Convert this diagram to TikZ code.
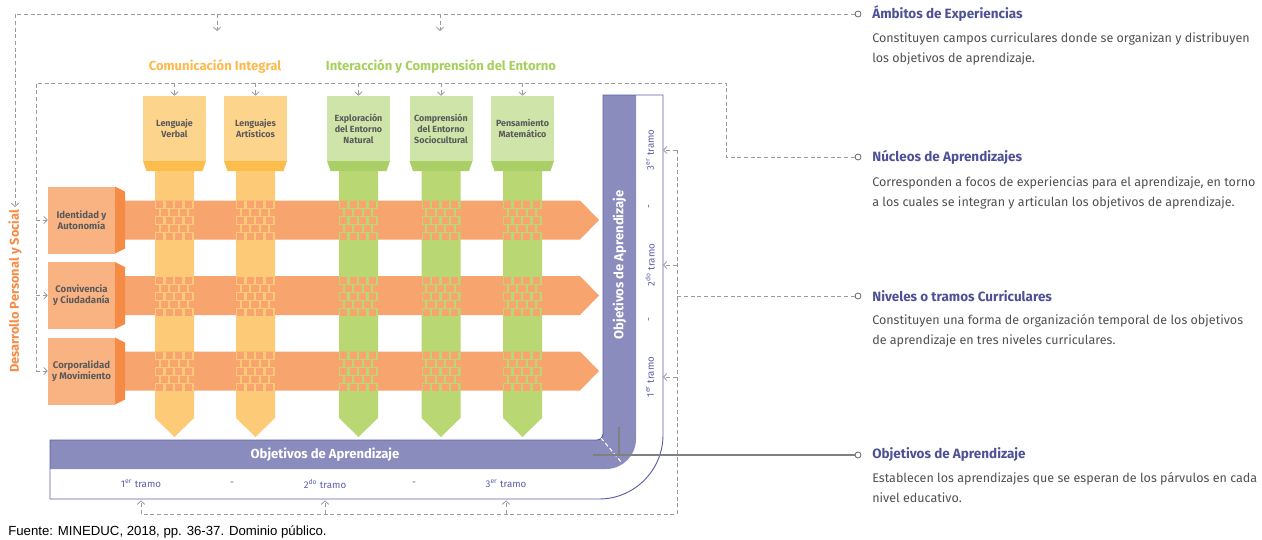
\documentclass[tikz,border=0pt]{standalone}
\usepackage{fontspec}
\setmainfont{Fira Sans}
\newfontfamily\fuentefont{Liberation Sans}
\usetikzlibrary{arrows.meta,positioning}

\begin{document}
\begin{tikzpicture}[x=0.75pt,y=-0.75pt]

\newcommand{\tejido}[3]{%
  \begin{scope}
    \clip (#1-19.5,#2-19.5) rectangle (#1+19.5,#2+19.5);
    \fill[#3] (#1-19.5,#2-19.5) rectangle (#1+19.5,#2+19.5);
    \foreach \k in {0,...,4}{
      \pgfmathsetmacro{\off}{mod(\k,2)*4.75}
      \foreach \j in {-1,...,4}
        \fill[rowCol] (#1-19.5+\off+\j*9.5+1.2,#2-19.5+\k*8+0.5) rectangle ++(7.1,7);
    }
  \end{scope}
}

  \definecolor{rowCol}{HTML}{F7A46E}
  \definecolor{pdFace}{HTML}{F9B382}
  \definecolor{pdSide}{HTML}{F68B45}
  \definecolor{oBox}{HTML}{FDD48C}
  \definecolor{oBand}{HTML}{FDBD4C}
  \definecolor{oStem}{HTML}{FDCB78}
  \definecolor{gBox}{HTML}{CFE4A8}
  \definecolor{gBand}{HTML}{AACF66}
  \definecolor{gStem}{HTML}{B9D772}
  \definecolor{oaFill}{HTML}{8A8CBE}
  \definecolor{oaLine}{HTML}{5A5DA8}
  \definecolor{dashCol}{HTML}{9B9B9B}
  \definecolor{titCol}{HTML}{4F5196}
  \definecolor{txtCol}{HTML}{505050}
  \definecolor{lblCol}{HTML}{5A5A5A}
  \definecolor{ciCol}{HTML}{FDB94C}
  \definecolor{icCol}{HTML}{A7CF5E}

 \tikzset{
      dashline/.style={dashCol,densely dashed,line width=0.6pt},
      dasharrow/.style={dashline,-{Straight Barb[length=2.6pt,width=5.5pt]}},
      grayline/.style={draw=gray,line width=0.8pt},
      colbox/.style={inner sep=0pt,minimum width=47.25pt,minimum height=48.75pt,
        align=center,font=\fontsize{6.7}{8.3}\selectfont\bfseries,text=lblCol},
      pdbox/.style={fill=pdFace,inner sep=0pt,minimum width=50.25pt,minimum height=50.25pt,
        align=center,font=\fontsize{7.2}{8}\selectfont\bfseries,text=lblCol},
      tramo/.style={text=oaLine,font=\fontsize{7.3}{8}\selectfont,inner sep=1pt},
      puntoref/.style={circle,draw=gray!80!black,fill=white,line width=0.6pt,
        inner sep=0pt,minimum size=4.5pt},
      titulo/.style={anchor=west,text=titCol,font=\fontsize{10.1}{12}\selectfont\bfseries,inner sep=0pt},
      cuerpo/.style={anchor=base west,text=txtCol,align=left,
        font=\fontsize{9.4}{14.6}\selectfont,inner sep=0pt},
      ambito/.style={font=\fontsize{9.8}{11}\selectfont\bfseries,inner sep=0pt},
      oatxt/.style={text=white,font=\fontsize{9.8}{11}\selectfont\bfseries,inner sep=0pt},
    }

 \useasboundingbox (0,0) rectangle (1262,539);

 % nucleos (columnas)
 \foreach \cx/\nm/\txt/\cf in {174.5/lv/{Lenguaje\\Verbal}/o,
     255.5/la/{Lenguajes\\Artísticos}/o,
     358.5/en/{Exploración\\del Entorno\\Natural}/g,
     441/cs/{Comprensión\\del Entorno\\Sociocultural}/g,
     522.5/pm/{Pensamiento\\Matemático}/g}{
   \fill[\cf Stem] (\cx-19.5,171) -- (\cx+19.5,171) -- (\cx+19.5,418) --
     (\cx,437) -- (\cx-19.5,418) -- cycle;
   \fill[\cf Band] (\cx-31.5,161) -- (\cx+31.5,161) -- (\cx+28,171) -- (\cx-28,171) -- cycle;
   \node[colbox,fill=\cf Box] (\nm) at (\cx,128.5) {\txt};
 }

 \node[ambito,text=ciCol] (ci) at (215,66) {Comunicación Integral};
 \node[ambito,text=icCol] (ic) at (441,66) {Interacción y Comprensión del Entorno};

 % nucleos (filas)
 \foreach \ry/\nm/\txt in {220/ia/{Identidad y\\Autonomía},
     295.5/cc/{Convivencia\\y Ciudadanía},
     371/cm/{Corporalidad\\y Movimiento}}{
   \fill[rowCol] (125,\ry-19.5) -- (580,\ry-19.5) -- (599,\ry) --
     (580,\ry+19.5) -- (125,\ry+19.5) -- cycle;
   \node[pdbox] (\nm) at (81.5,\ry) {\txt};
   \fill[pdSide] (115,\ry-33.5) -- (125,\ry-28.5) -- (125,\ry+28.5) -- (115,\ry+33.5) -- cycle;
   \foreach \cx/\cf in {174.5/o,255.5/o,358.5/g,441/g,522.5/g}
     \tejido{\cx}{\ry}{\cf Stem};
 }

 \node[rotate=90,text=pdSide,font=\fontsize{9.6}{11}\selectfont\bfseries,inner sep=2pt]
   (dps) at (15,291.5) {Desarrollo Personal y Social};

 % objetivos de aprendizaje (L)
 \fill[oaFill] (50,440) -- (597,440) .. controls (600.3,440) and (603,436.7) .. (603,434) --
   (603,95) -- (636,95) -- (636,439) .. controls (636,455.6) and (622.6,469) .. (606,469) --
   (50,469) -- cycle;
 \draw[oaLine,line width=0.7pt] (50,440) -- (50,499) -- (599,499)
   .. controls (634.3,499) and (663,470.3) .. (663,435) -- (663,95) -- (603,95) --
   (603,434) .. controls (603,436.7) and (600.3,440) .. (597,440) -- cycle;
 \draw[white,densely dashed,line width=0.8pt] (601,438) -- (622,463);

 \node[oatxt] (oah) at (325,455) {Objetivos de Aprendizaje};
 \node[oatxt,rotate=90] (oav) at (619.5,265) {Objetivos de Aprendizaje};

 \node[tramo] (t1h) at (141,484) {1\textsuperscript{er} tramo};
 \node[tramo] (s1h) at (232,484) {-};
 \node[tramo] (t2h) at (325,484) {2\textsuperscript{do} tramo};
 \node[tramo] (s2h) at (414,484) {-};
 \node[tramo] (t3h) at (506,484) {3\textsuperscript{er} tramo};

 \node[tramo,rotate=90] (t3v) at (650,150) {3\textsuperscript{er} tramo};
 \node[tramo,rotate=90] (s2v) at (650,207) {-};
 \node[tramo,rotate=90] (t2v) at (650,265) {2\textsuperscript{do} tramo};
 \node[tramo,rotate=90] (s1v) at (650,320) {-};
 \node[tramo,rotate=90] (t1v) at (650,377) {1\textsuperscript{er} tramo};

 % leyenda
 \node[puntoref] (pAmb) at (858,14) {};
 \node[titulo,right=8pt of pAmb] (tAmb) {Ámbitos de Experiencias};
 \node[cuerpo] (bAmb) at (872,62)
   {Constituyen campos curriculares donde se organizan y distribuyen\\los objetivos de aprendizaje.};

 \node[puntoref] (pNuc) at (858,157) {};
 \node[titulo,right=8pt of pNuc] (tNuc) {Núcleos de Aprendizajes};
 \node[cuerpo] (bNuc) at (872,206)
   {Corresponden a focos de experiencias para el aprendizaje, en torno\\a los cuales se integran y articulan los objetivos de aprendizaje.};

 \node[puntoref] (pNiv) at (858,296) {};
 \node[titulo,right=8pt of pNiv] (tNiv) {Niveles o tramos Curriculares};
 \node[cuerpo] (bNiv) at (872,344)
   {Constituyen una forma de organización temporal de los objetivos\\de aprendizaje en tres niveles curriculares.};

 \node[puntoref] (pObj) at (858,455) {};
 \node[titulo,right=8pt of pObj] (tObj) {Objetivos de Aprendizaje};
 \node[cuerpo] (bObj) at (872,502)
   {Establecen los aprendizajes que se esperan de los párvulos en cada\\nivel educativo.};

 % conectores
 \coordinate (ciTop) at (217,31);
 \coordinate (icTop) at (440,31);
 \coordinate (nucLine) at (36,83);
 \coordinate (nivX) at (677,296);
 \coordinate (nivBot) at (677,514);
 \coordinate (edgeR) at (663,0);
 \coordinate (edgeB) at (0,499);

 \draw[dasharrow] (pAmb.west) -- (dps.east |- pAmb.west) -- (dps.east);
 \draw[dasharrow] (ciTop |- pAmb.west) -- (ciTop);
 \draw[dasharrow] (icTop |- pAmb.west) -- (icTop);

 \draw[dashline] (pNuc.west) -- (726,157) -- (726,83) -- (nucLine) -- (nucLine |- cm.west);
 \foreach \nm in {lv,la,en,cs,pm}
   \draw[dasharrow] (\nm.north |- nucLine) -- (\nm.north);
 \foreach \nm in {ia,cc,cm}
   \draw[dasharrow] (\nm.west -| nucLine) -- (\nm.west);

 \draw[dashline] (pNiv.west) -- (nivX);
 \draw[dashline] (t3v -| nivX) -- (nivBot) -- (t1h |- nivBot);
 \foreach \nm in {t3v,t2v,t1v}
   \draw[dasharrow] (\nm -| nivX) -- (\nm -| edgeR);
 \foreach \nm in {t1h,t2h,t3h}
   \draw[dasharrow] (\nm |- nivBot) -- ([yshift=-1pt]\nm |- edgeB);

 \draw[grayline] (593,455) -- (pObj.west);
 \draw[grayline] (619,427) -- (619,455);

 \node[anchor=west,inner sep=0pt,font=\fuentefont\fontsize{9.9}{11}\selectfont] (fuente)
   at (8,532) {Fuente: MINEDUC, 2018, pp. 36-37. Dominio público.};
\end{tikzpicture}
\end{document}
